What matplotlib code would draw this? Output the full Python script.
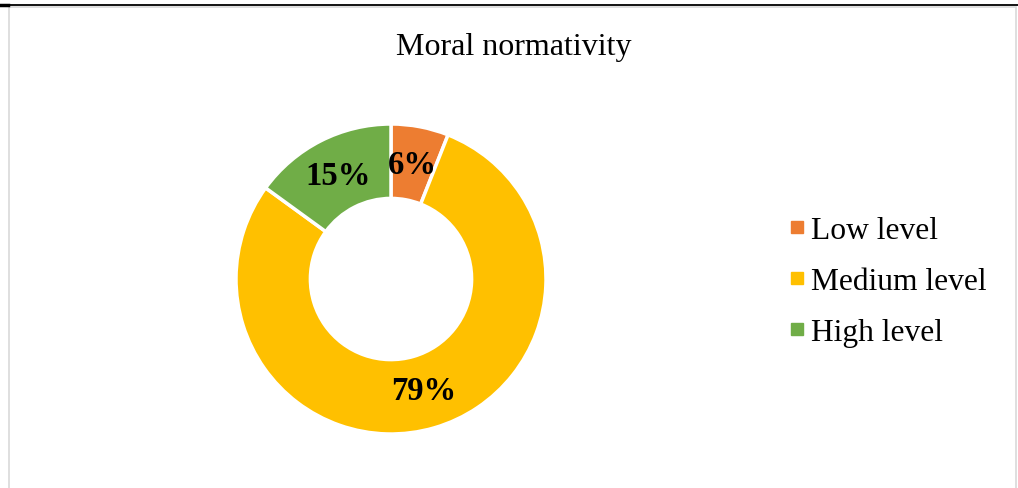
import matplotlib.pyplot as plt
from matplotlib.lines import Line2D
from matplotlib.patches import Rectangle

# chart data
title = "Moral normativity"
categories = ["Low level", "Medium level", "High level"]
values = [6, 79, 15]
colors = ["#ED7D31", "#FFC000", "#70AD47"]

plt.rcParams['font.family'] = ['Liberation Serif', 'DejaVu Serif']

W, H = 1018, 489
fig = plt.figure(figsize=(W / 100, H / 100), dpi=100)

# page line on top and the grey chart frame
fig.add_artist(Line2D([0, 1], [1 - 5.5 / H, 1 - 5.5 / H], color="black", lw=1.3))
fig.add_artist(Line2D([0, 8 / W], [1 - 6 / H, 1 - 6 / H], color="black", lw=2.5))
fig.add_artist(Rectangle((8.5 / W, -0.05), (1016 - 8.5) / W, 1.05 - 7.5 / H,
                         fill=False, edgecolor="#D9D9D9", lw=1.2,
                         transform=fig.transFigure))

fig.text(514 / W, 1 - 47 / H, title, ha="center", va="center", fontsize=23)

# donut
cx, cy, r = 391, 280, 155
ax = fig.add_axes([(cx - r) / W, (H - cy - r) / H, 2 * r / W, 2 * r / H])
wedges, texts, autotexts = ax.pie(
    values, colors=colors, startangle=90, counterclock=False,
    autopct=lambda p: "%d%%" % round(p), pctdistance=0.75,
    wedgeprops=dict(width=0.48, edgecolor="white", linewidth=2.5),
    textprops=dict(fontsize=23.5, fontweight="bold", color="black"))
ax.set_xlim(-1, 1)
ax.set_ylim(-1, 1)
ax.set_aspect("equal")
ax.axis("off")

handles = [Line2D([], [], marker="s", linestyle="none", markersize=8,
                  markerfacecolor=c, markeredgecolor=c) for c in colors]
fig.legend(handles, categories, loc="center left",
           bbox_to_anchor=(772 / W, 1 - 282.5 / H), frameon=False,
           fontsize=22.7, handlelength=0.6, handletextpad=0.15,
           labelspacing=0.69, borderpad=0)

fig.savefig("out.png", dpi=100, facecolor="white")
